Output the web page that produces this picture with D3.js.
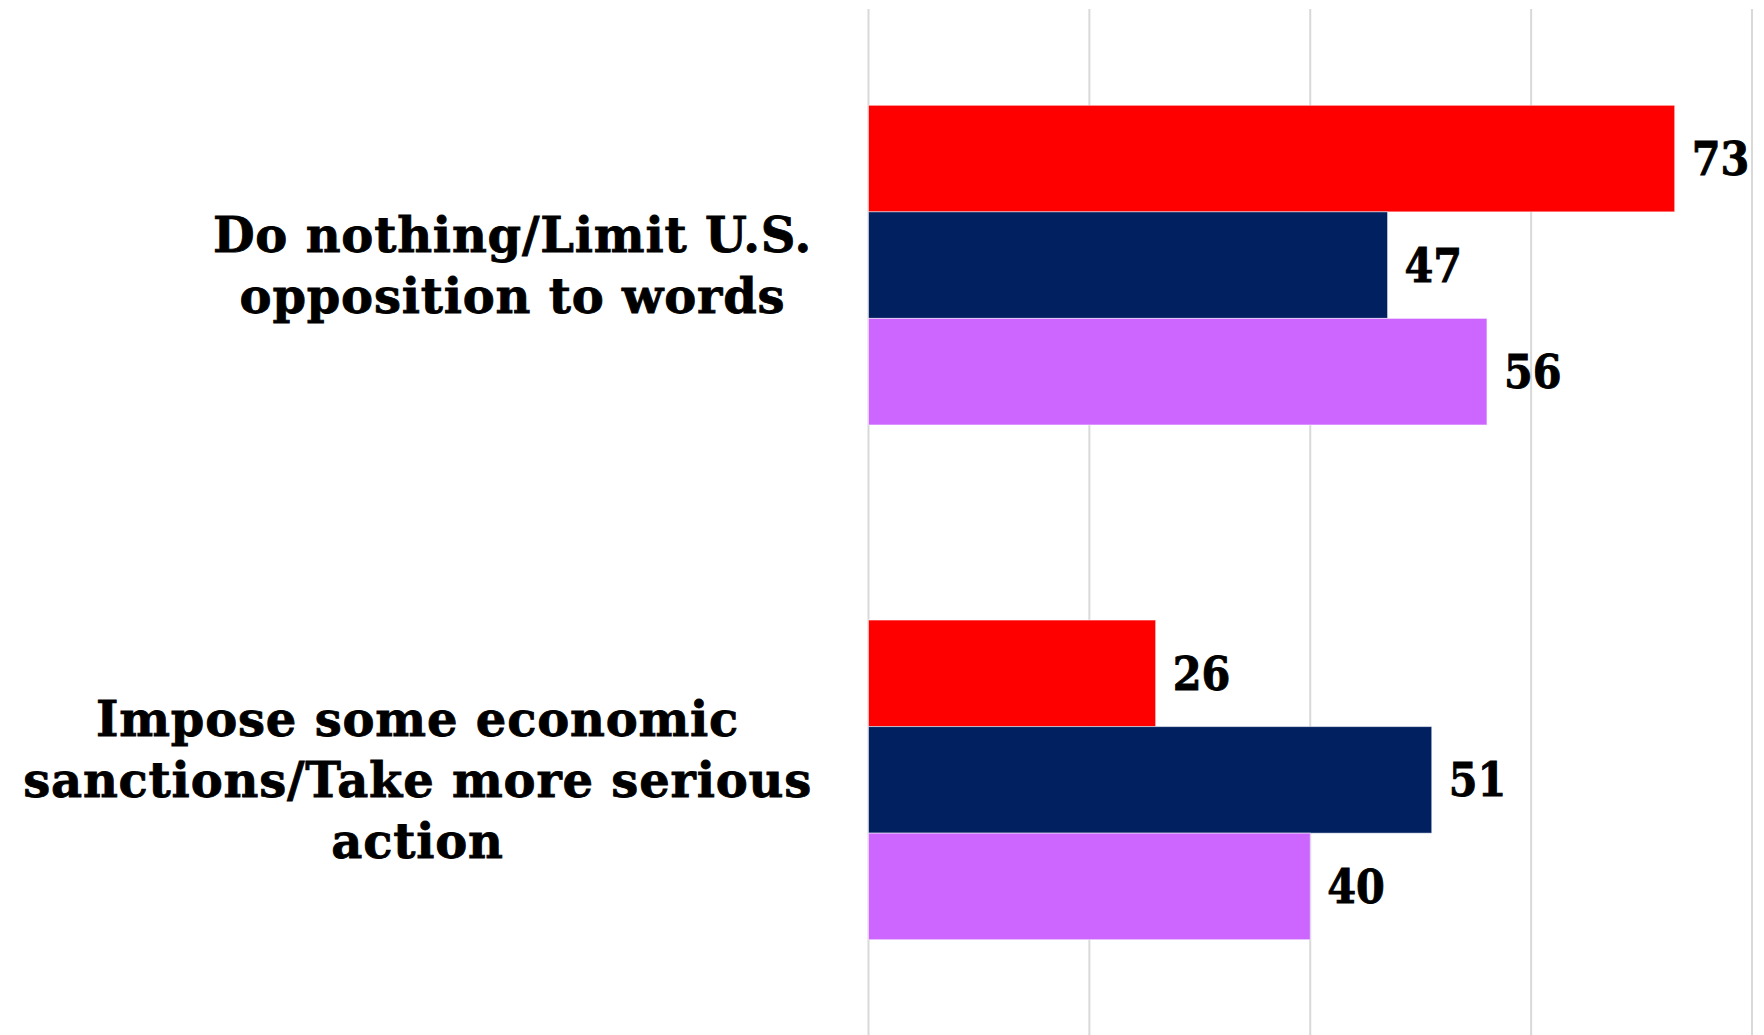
<!DOCTYPE html>
<html>
<head>
<meta charset="utf-8">
<script src="https://cdn.jsdelivr.net/npm/d3@7"></script>
<style>
  body { margin: 0; background: #fff; }
  svg { display: block; }
</style>
</head>
<body>
<script>
// data
var categories = [
  ["Do nothing/Limit U.S.", "opposition to words"],
  ["Impose some economic", "sanctions/Take more serious", "action"]
];
var seriesNames = ["s1", "s2", "s3"];
var seriesColors = ["#ff0000", "#002060", "#cc66ff"];
var seriesValues = [
  [73, 26],
  [47, 51],
  [56, 40]
];
var tickValues = [0, 20, 40, 60, 80];

(function() {
  var width = 1764;
  var height = 1035;

  var svg = d3.select("body")
    .append("svg")
    .attr("width", width)
    .attr("height", height);

  var x = d3.scaleLinear().domain([0, 80]).range([868.5, 1752]);

  var y = d3.scaleBand()
    .domain(d3.range(categories.length))
    .range([7.5, 1037.5])
    .paddingInner(0.379)
    .paddingOuter(0.19);

  var ySub = d3.scaleBand()
    .domain(d3.range(seriesNames.length))
    .range([0, y.bandwidth()]);

  // gridlines
  svg.append("g")
    .selectAll("line")
    .data(tickValues)
    .enter().append("line")
    .attr("x1", d => x(d))
    .attr("x2", d => x(d))
    .attr("y1", 9)
    .attr("y2", height)
    .attr("stroke", "#d9d9d9")
    .attr("stroke-width", 2);

  // bars
  var groups = svg.selectAll(".grp")
    .data(categories)
    .enter().append("g")
    .attr("class", "grp")
    .attr("transform", (d, i) => "translate(0," + y(i) + ")");

  groups.each(function(cat, ci) {
    var g = d3.select(this);
    seriesNames.forEach(function(s, si) {
      var v = seriesValues[si][ci];
      g.append("rect")
        .attr("x", x(0))
        .attr("y", ySub(si))
        .attr("width", x(v) - x(0))
        .attr("height", ySub.bandwidth())
        .attr("fill", seriesColors[si])
        .attr("stroke", "#ffffff")
        .attr("stroke-opacity", 0.5)
        .attr("stroke-width", 1);
      g.append("text")
        .attr("x", x(v) + 17)
        .attr("y", ySub(si) + ySub.bandwidth() / 2)
        .attr("dy", "0.36em")
        .attr("font-family", "'DejaVu Serif Condensed', 'DejaVu Serif', serif")
        .attr("font-weight", "bold")
        .attr("font-size", 46)
        .attr("stroke", "#000")
        .attr("stroke-width", 0.8)
        .attr("fill", "#000")
        .text(v);
    });
  });

  // category labels, lines centred inside a right-aligned block
  var labelRight = 812;
  var lineGap = 61;
  categories.forEach(function(lines, ci) {
    var cy = y(ci) + y.bandwidth() / 2;
    var t = svg.append("g");
    var texts = t.selectAll("text")
      .data(lines)
      .enter().append("text")
      .attr("y", (d, li) => cy + (li - (lines.length - 1) / 2) * lineGap)
      .attr("dy", "0.36em")
      .attr("text-anchor", "middle")
      .attr("font-family", "'DejaVu Serif', serif")
      .attr("font-weight", "bold")
      .attr("font-size", 48)
      .attr("letter-spacing", 0.8)
      .attr("stroke", "#000")
      .attr("stroke-width", 0.8)
      .attr("fill", "#000")
      .text(d => d);
    var maxW = 0;
    texts.each(function() { maxW = Math.max(maxW, this.getComputedTextLength()); });
    texts.attr("x", labelRight - maxW / 2);
  });
})();
</script>
</body>
</html>
